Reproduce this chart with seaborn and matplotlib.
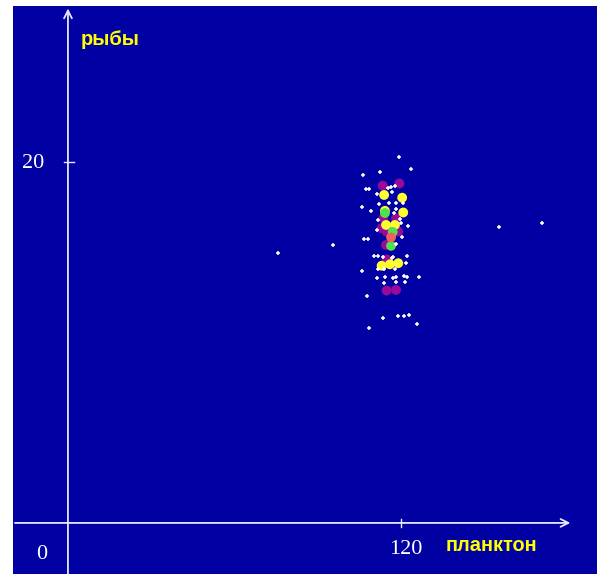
import matplotlib
matplotlib.use("Agg")
import matplotlib.pyplot as plt
import pandas as pd
import seaborn as sns

# small white points (plankton, fish)
white_x = [119.4, 123.5, 106.4, 112.5, 107.4, 108.6, 111.2, 115.4, 116.3, 117.8,
           116.9, 120.6, 112.2, 115.8, 118.1, 106.1, 109.1, 118.1, 117.6, 111.8,
           119.9, 122.6, 111.2, 106.5, 108.2, 120.5, 118.1, 110.4, 111.6, 113.4,
           116.6, 117.2, 122.2, 121.7, 111.8, 114.0, 117.8, 105.9, 126.5, 111.2,
           114.2, 117.2, 118.2, 121.2, 122.1, 113.7, 118.2, 121.4, 107.6, 113.4,
           119.0, 121.2, 123.0, 125.7, 108.6, 75.8, 95.4, 155.4, 170.7, 119.6]
white_y = [20.29, 19.61, 19.28, 19.46, 18.49, 18.49, 18.21, 18.54, 18.60, 18.67,
           18.34, 17.75, 17.67, 17.71, 17.71, 17.52, 17.29, 17.41, 17.19, 16.79,
           16.64, 16.45, 16.23, 15.73, 15.73, 15.86, 15.46, 14.81, 14.81, 14.72,
           14.66, 14.75, 14.81, 14.39, 14.07, 14.07, 14.07, 13.98, 13.65, 13.59,
           13.65, 13.59, 13.65, 13.70, 13.65, 13.32, 13.37, 13.37, 12.58, 11.37,
           11.47, 11.47, 11.52, 11.01, 10.79, 14.94, 15.40, 16.38, 16.60, 16.84]

# coloured groups
magenta_x = [113.4, 119.4, 113.6, 118.2, 113.0, 115.0, 117.8, 114.8, 119.0, 114.6, 114.8, 114.8, 118.2]
magenta_y = [18.69, 18.81, 16.88, 16.88, 16.33, 16.36, 16.42, 16.14, 16.14, 15.40, 14.60, 12.87, 12.91]
yellow_x = [113.9, 120.4, 114.2, 120.8, 114.6, 117.8, 113.0, 116.0, 119.0]
yellow_y = [18.17, 18.02, 17.29, 17.20, 16.51, 16.51, 14.25, 14.33, 14.39]
green_x = [114.2, 117.0, 116.4]
green_y = [17.17, 16.12, 15.35]
red_x = [116.4]
red_y = [15.82]

groups = (["magenta"] * len(magenta_x) + ["yellow"] * len(yellow_x)
          + ["green"] * len(green_x) + ["red"] * len(red_x))
colored = pd.DataFrame({
    "x": magenta_x + yellow_x + green_x + red_x,
    "y": magenta_y + yellow_y + green_y + red_y,
    "group": groups,
})
white = pd.DataFrame({"x": white_x, "y": white_y})

BG = "#0000A3"
fig = plt.figure(figsize=(5.97, 5.74), dpi=100, facecolor="white")
ax = fig.add_axes([13 / 597, 0, 584 / 597, 568 / 574])
ax.set_facecolor(BG)
for s in ax.spines.values():
    s.set_visible(False)
ax.set_xlim(-19.8, 190.6)
ax.set_ylim(-2.83, 28.64)
ax.set_xticks([])
ax.set_yticks([])

axis_col = "#E6E6FF"
ax.annotate("", xy=(181, 0), xytext=(-19.1, 0),
            arrowprops=dict(arrowstyle="->", color=axis_col, lw=1.3,
                            mutation_scale=14, shrinkA=0, shrinkB=0),
            annotation_clip=False)
ax.annotate("", xy=(0, 28.5), xytext=(0, -2.83),
            arrowprops=dict(arrowstyle="->", color=axis_col, lw=1.3,
                            mutation_scale=14, shrinkA=0, shrinkB=0),
            annotation_clip=False)
ax.plot([120, 120], [-0.22, 0.22], color=axis_col, lw=1.0)
ax.plot([-1.44, 2.16], [20, 20], color=axis_col, lw=1.0)

palette = {"magenta": "#9A0A9A", "yellow": "#FFFF30", "green": "#50E050", "red": "#F06060"}
sns.scatterplot(data=colored, x="x", y="y", hue="group", palette=palette,
                s=50, edgecolor="none", legend=False, ax=ax, zorder=3)
sns.scatterplot(data=white, x="x", y="y", color="white", marker="+",
                s=10, linewidth=1.1, legend=False, ax=ax, zorder=4)
ax.set_xlabel("")
ax.set_ylabel("")

serif = ["Liberation Serif", "DejaVu Serif"]
ax.text(-12.6, 19.94, "20", color="white", fontsize=16, family=serif,
        ha="center", va="center")
ax.text(121.8, -1.5, "120", color="white", fontsize=16, family=serif,
        ha="center", va="center")
ax.text(-9.4, -1.77, "0", color="white", fontsize=16, family=serif,
        ha="center", va="center")
ax.text(4.7, 26.76, "рыбы", color="#FFFF00", fontsize=14.5, fontweight="bold",
        family=["Liberation Sans", "DejaVu Sans"], ha="left", va="center")
ax.text(135.9, -1.27, "планктон", color="#FFFF00", fontsize=14.4, fontweight="bold",
        family=["Liberation Sans", "DejaVu Sans"], ha="left", va="center")

fig.savefig("out.png", dpi=100, facecolor="white")
